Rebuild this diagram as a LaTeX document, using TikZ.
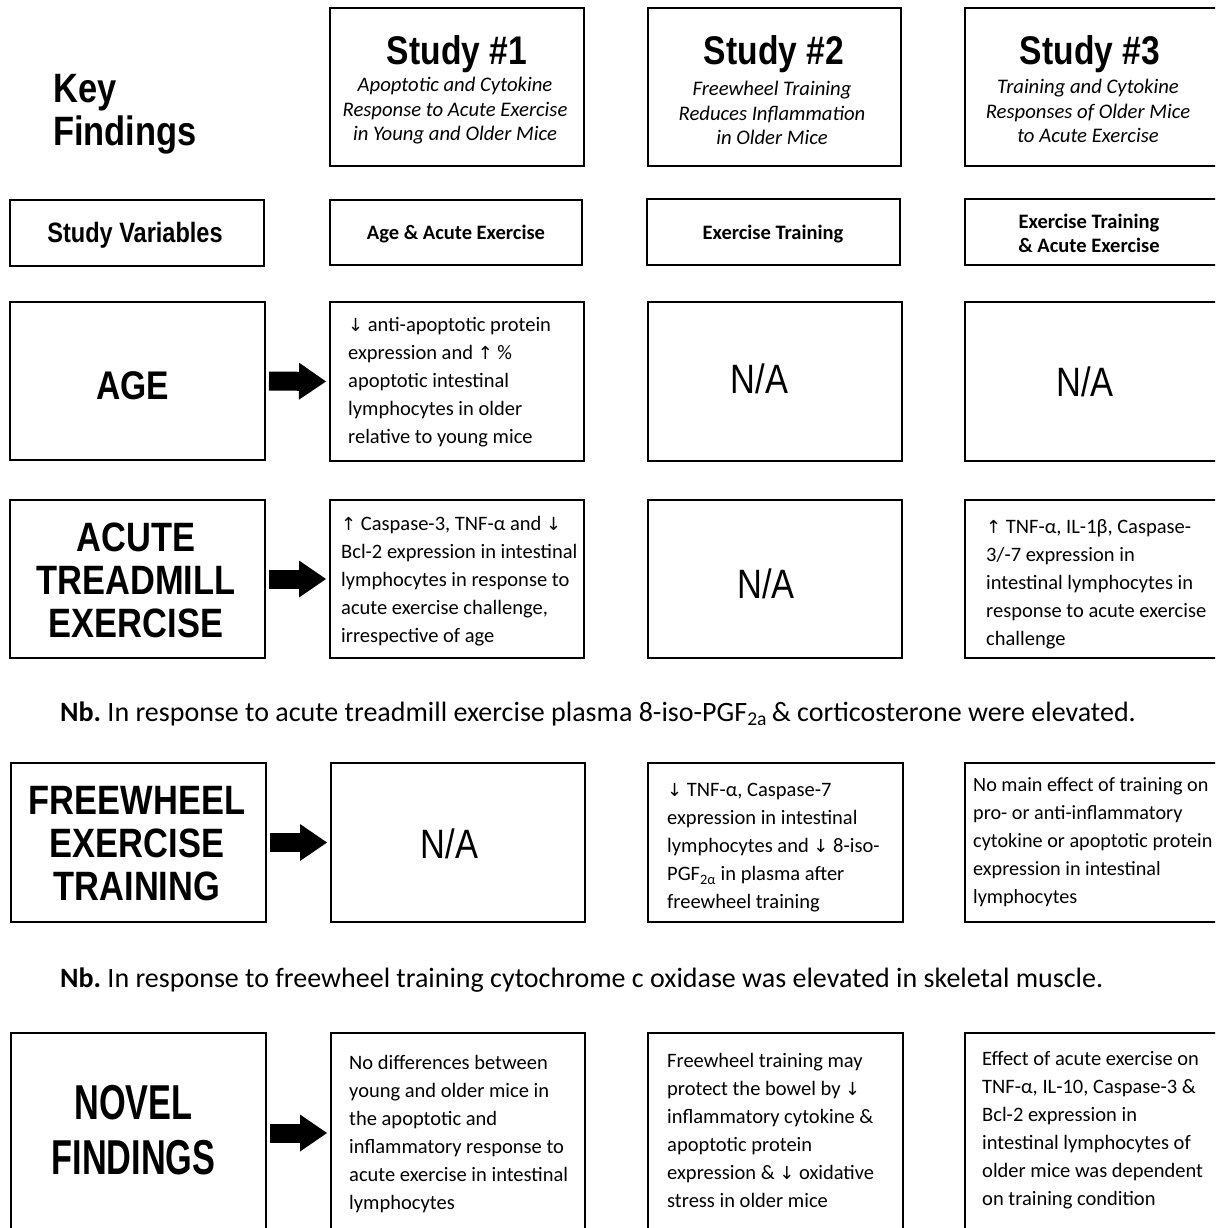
\documentclass[tikz,border=0pt]{standalone}
\usepackage{fontspec}
\setmainfont{Carlito}
\newfontfamily\hdf[FakeStretch=0.84]{Liberation Sans}
\newfontfamily\hdnf[FakeStretch=0.70]{Liberation Sans}
\newfontfamily\symf{DejaVu Sans}
\newcommand\uar{{\symf\fontsize{18}{28}\selectfont ↑}}
\newcommand\dar{{\symf\fontsize{18}{28}\selectfont ↓}}
\usetikzlibrary{arrows.meta}
\frenchspacing
\tikzset{
  bx/.style 2 args={draw, line width=2pt, rectangle, inner sep=0pt, minimum width=#1, minimum height=#2},
  body/.style={anchor=west, align=left, inner sep=0pt, font=\fontsize{20.5}{28}\selectfont},
  ttl/.style={anchor=base, inner sep=0pt, font=\hdf\bfseries\fontsize{40}{40}\selectfont},
  sub/.style={align=center, inner sep=0pt, font=\itshape\fontsize{20.7}{24.5}\selectfont},
  var/.style={align=center, inner sep=0pt, font=\bfseries\fontsize{20.5}{24}\selectfont},
  big/.style={align=center, inner sep=0pt, font=\hdf\bfseries\fontsize{41}{43}\selectfont},
  na/.style={inner sep=0pt, font=\hdf\fontsize{41}{41}\selectfont},
  nb/.style={anchor=base west, inner sep=0pt, font=\fontsize{28}{30}\selectfont},
  blk/.style={line width=19pt, -{Triangle[length=27pt,width=37pt,line width=0pt]}, shorten <=3pt, shorten >=3pt}
}
\begin{document}
\begin{tikzpicture}[x=1pt,y=-1pt]
\useasboundingbox (0,0) rectangle (1215,1228);
\fill[white] (0,0) rectangle (1215,1228);
\clip (0,0) rectangle (1215,1228);

% ---- header row
\node[anchor=base west, inner sep=0pt, font=\hdf\bfseries\fontsize{41}{41}\selectfont] (key1) at (53,103) {Key};
\node[anchor=base west, inner sep=0pt, font=\hdf\bfseries\fontsize{41}{41}\selectfont] (key2) at (53,146) {Findings};

\node[bx={254pt}{158pt}] (s1) at (457,87) {};
\node[bx={253pt}{158pt}] (s2) at (774.5,87) {};
\node[bx={254pt}{158pt}] (s3) at (1092,87) {};
\node[ttl] (s1t) at (457,65) {Study \#1};
\node[ttl] (s2t) at (774,65) {Study \#2};
\node[ttl] (s3t) at (1090,65) {Study \#3};
\node[sub] (s1s) at (455,111) {Apoptotic and Cytokine\\Response to Acute Exercise\\in Young and Older Mice};
\node[sub] (s2s) at (772,113) {Freewheel Training\\Reduces Inflammation\\in Older Mice};
\node[sub] (s3s) at (1088,111) {Training and Cytokine\\Responses of Older Mice\\to Acute Exercise};

% ---- variables row
\node[bx={254pt}{66pt}] (v0) at (137,233) {};
\node[bx={252pt}{65pt}] (v1) at (456,232.5) {};
\node[bx={253pt}{66pt}] (v2) at (773.5,232) {};
\node[bx={254pt}{66pt}] (v3) at (1092,232) {};
\node[inner sep=0pt, font=\hdf\bfseries\fontsize{28}{28}\selectfont] (v0t) at (135,235) {Study Variables};
\node[var] (v1t) at (456,234) {Age \& Acute Exercise};
\node[var] (v2t) at (773,234) {Exercise Training};
\node[var] (v3t) at (1089,233) {Exercise Training\\\& Acute Exercise};

% ---- AGE row
\node[bx={255pt}{158pt}] (a0) at (137.5,381) {};
\node[bx={254pt}{159pt}] (a1) at (457,381.5) {};
\node[bx={254pt}{159pt}] (a2) at (775,381.5) {};
\node[bx={254pt}{159pt}] (a3) at (1092,381.5) {};
\node[anchor=base, inner sep=0pt, font=\hdf\bfseries\fontsize{40}{43}\selectfont] (a0t) at (132.5,399) {AGE};
\node[body] (a1t) at (348,382) {\dar{} anti-apoptotic protein\\expression and \uar{} \%\\apoptotic intestinal\\lymphocytes in older\\relative to young mice};
\node[na] (a2t) at (759.5,379) {N/A};
\node[na] (a3t) at (1085,382) {N/A};
\draw[blk] (a0.east) -- (a1.west);

% ---- ACUTE row
\node[bx={255pt}{158pt}] (c0) at (137.5,579) {};
\node[bx={254pt}{158pt}] (c1) at (457,579) {};
\node[bx={254pt}{158pt}] (c2) at (775,579) {};
\node[bx={254pt}{158pt}] (c3) at (1092,579) {};
\node[big] (c0t) at (136,580.5) {ACUTE\\TREADMILL\\EXERCISE};
\node[body] (c1t) at (341,581) {\uar{} Caspase-3, TNF-α and \dar\\Bcl-2 expression in intestinal\\lymphocytes in response to\\acute exercise challenge,\\irrespective of age};
\node[na] (c2t) at (766,584) {N/A};
\node[body] (c3t) at (986,584) {\uar{} TNF-α, IL-1β, Caspase-\\3/-7 expression in\\intestinal lymphocytes in\\response to acute exercise\\challenge};
\draw[blk] (c0.east) -- (c1.west);

\node[nb] (nb1) at (60,721) {\textbf{Nb.} In response to acute treadmill exercise plasma 8-iso-PGF\textsubscript{2a}\,\& corticosterone were elevated.};

% ---- FREEWHEEL row
\node[bx={255pt}{159pt}] (f0) at (138.5,842.5) {};
\node[bx={254pt}{159pt}] (f1) at (458,842.5) {};
\node[bx={255pt}{159pt}] (f2) at (775.5,842.5) {};
\node[bx={254pt}{159pt}] (f3) at (1092,842.5) {};
\node[big] (f0t) at (137,843.5) {FREEWHEEL\\EXERCISE\\TRAINING};
\node[na] (f1t) at (449.5,844) {N/A};
\node[body] (f2t) at (667,848) {\dar{} TNF-α, Caspase-7\\expression in intestinal\\lymphocytes and \dar{} 8-iso-\\PGF\textsubscript{2α} in plasma after\\freewheel training};
\node[body, font=\fontsize{20.2}{28}\selectfont] (f3t) at (973,842) {No main effect of training on\\pro- or anti-inflammatory\\cytokine or apoptotic protein\\expression in intestinal\\lymphocytes};
\draw[blk] (f0.east) -- (f1.west);

\node[nb] (nb2) at (60,987) {\textbf{Nb.} In response to freewheel training cytochrome c oxidase was elevated in skeletal muscle.};

% ---- NOVEL row
\node[bx={255pt}{200pt}] (n0) at (138.5,1133) {};
\node[bx={254pt}{200pt}] (n1) at (458,1133) {};
\node[bx={255pt}{200pt}] (n2) at (775.5,1133) {};
\node[bx={254pt}{200pt}] (n3) at (1092,1133) {};
\node[align=center, inner sep=0pt, font=\hdnf\bfseries\fontsize{49}{55}\selectfont] (n0t) at (133.5,1130) {NOVEL\\FINDINGS};
\node[body] (n1t) at (349,1134) {No differences between\\young and older mice in\\the apoptotic and\\inflammatory response to\\acute exercise in intestinal\\lymphocytes};
\node[body] (n2t) at (667,1130) {Freewheel training may\\protect the bowel by \dar\\inflammatory cytokine \&\\apoptotic protein\\expression \& \dar{} oxidative\\stress in older mice};
\node[body] (n3t) at (982,1130) {Effect of acute exercise on\\TNF-α, IL-10, Caspase-3 \&\\Bcl-2 expression in\\intestinal lymphocytes of\\older mice was dependent\\on training condition};
\draw[blk] (n0.east) -- (n1.west);
\end{tikzpicture}
\end{document}
